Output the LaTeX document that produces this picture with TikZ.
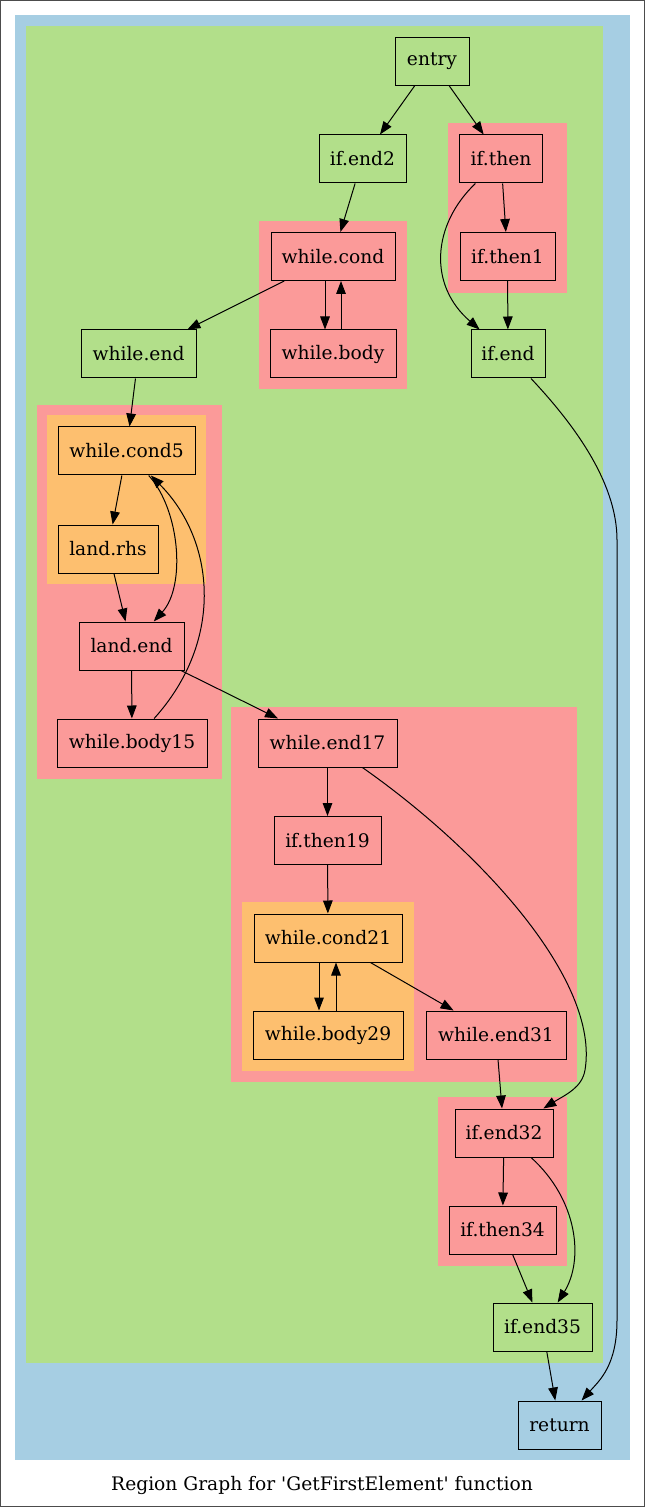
\documentclass[tikz,border=0pt]{standalone}
\usepackage{fontspec}
\setmainfont{DejaVu Serif}
\usepackage{tikz}
\usetikzlibrary{arrows.meta}
\definecolor{regblue}{HTML}{A6CEE3}
\definecolor{reggreen}{HTML}{B2DF8A}
\definecolor{regred}{HTML}{FB9A99}
\definecolor{regorange}{HTML}{FDBF6F}

\begin{document}
\begin{tikzpicture}[x=0.5pt, y=-0.5pt,
	bb/.style={draw, rectangle, line width=0.5pt, inner sep=1pt, minimum height=24pt, minimum width=#1*0.5pt},
	bb/.default=100,
	ed/.style={->, line width=0.5pt},
	>={Triangle[length=6.5pt, width=4.8pt]},
	font=\fontsize{9.33pt}{11pt}\selectfont]

\useasboundingbox (0,0) rectangle (645,1507);
\draw[black!70, line width=0.5pt] (0.5,0.5) rectangle (644.5,1506.5); % frame

% regions
\fill[regblue]   (15,15)    rectangle (630,1460);
\fill[reggreen]  (26,26)    rectangle (603,1363);
\fill[regred]    (448,123)  rectangle (567,293);
\fill[regred]    (259,221)  rectangle (407,389);
\fill[regred]    (37,405)   rectangle (222,779);
\fill[regorange] (47,415)   rectangle (206,584);
\fill[regred]    (231,707)  rectangle (577,1082);
\fill[regorange] (242,902)  rectangle (414,1071);
\fill[regred]    (438,1097) rectangle (567,1266);

% blocks
\node[bb=74,  fill=reggreen]  (entry)       at (432,61.5)   {entry};
\node[bb=87,  fill=reggreen]  (ifend2)      at (362.5,159)  {if.end2};
\node[bb=83,  fill=regred]    (ifthen)      at (501,159)    {if.then};
\node[bb=95,  fill=regred]    (ifthen1)     at (507.5,256.5){if.then1};
\node[bb=124, fill=regred]    (whilecond)   at (333,256.5)  {while.cond};
\node[bb=126, fill=regred]    (whilebody)   at (333,354)    {while.body};
\node[bb=115, fill=reggreen]  (whileend)    at (138.5,354)  {while.end};
\node[bb=74,  fill=reggreen]  (ifend)       at (508,354)    {if.end};
\node[bb=137, fill=regorange] (whilecond5)  at (126.5,451)  {while.cond5};
\node[bb=100, fill=regorange] (landrhs)     at (108,549)    {land.rhs};
\node[bb=105, fill=regred]    (landend)     at (131.5,646)  {land.end};
\node[bb=150, fill=regred]    (whilebody15) at (132,743)    {while.body15};
\node[bb=139, fill=regred]    (whileend17)  at (327.5,743)  {while.end17};
\node[bb=107, fill=regred]    (ifthen19)    at (327.5,840.5){if.then19};
\node[bb=148, fill=regorange] (whilecond21) at (328,938)    {while.cond21};
\node[bb=150, fill=regorange] (whilebody29) at (328,1035)   {while.body29};
\node[bb=140, fill=regred]    (whileend31)  at (496,1035)   {while.end31};
\node[bb=98,  fill=regred]    (ifend32)     at (504,1133)   {if.end32};
\node[bb=107, fill=regred]    (ifthen34)    at (502.5,1230) {if.then34};
\node[bb=99,  fill=reggreen]  (ifend35)     at (542.5,1327) {if.end35};
\node[bb=83,  fill=regblue]   (return)      at (559.5,1425) {return};

\node (caption) at (322,1485) {Region Graph for \textquotesingle GetFirstElement\textquotesingle{} function};

% edges
\draw[ed] (entry) -- (ifend2);
\draw[ed] (entry) -- (ifthen);
\draw[ed] (ifend2) -- (whilecond);
\draw[ed] (ifthen) -- (ifthen1);
\draw[ed] (ifthen) .. controls (432,225) and (428,285) .. (ifend);
\draw[ed] (ifthen1) -- (ifend);
\draw[ed] (whilecond) -- (whileend);
\draw[ed] ([xshift=-4pt]whilecond.south) -- ([xshift=-4pt]whilebody.north);
\draw[ed] ([xshift=4pt]whilebody.north) -- ([xshift=4pt]whilecond.south);
\draw[ed] (whileend) -- (whilecond5);
\draw[ed] (ifend) .. controls (570,420) and (617,480) .. (617,540) -- (617,1320) .. controls (617,1365) and (600,1380) .. (return);
\draw[ed] (whilecond5) -- (landrhs);
\draw[ed] (whilecond5) .. controls (180,510) and (186,586) .. (landend);
\draw[ed] (landrhs) -- (landend);
\draw[ed] (landend) -- (whilebody15);
\draw[ed] (landend) -- (whileend17);
\draw[ed] (whilebody15) .. controls (225,640) and (215,540) .. (whilecond5);
\draw[ed] (whileend17) -- (ifthen19);
\draw[ed] (whileend17) .. controls (480,850) and (600,980) .. (585,1070) .. controls (582,1088) and (565,1095) .. (ifend32);
\draw[ed] (ifthen19) -- (whilecond21);
\draw[ed] ([xshift=-4.5pt]whilecond21.south) -- ([xshift=-4.5pt]whilebody29.north);
\draw[ed] ([xshift=4pt]whilebody29.north) -- ([xshift=4pt]whilecond21.south);
\draw[ed] (whilecond21) -- (whileend31);
\draw[ed] (whileend31) -- (ifend32);
\draw[ed] (ifend32) -- (ifthen34);
\draw[ed] (ifend32) .. controls (578,1200) and (584,1260) .. (ifend35);
\draw[ed] (ifthen34) -- (ifend35);
\draw[ed] (ifend35) -- (return);

\end{tikzpicture}
\end{document}
